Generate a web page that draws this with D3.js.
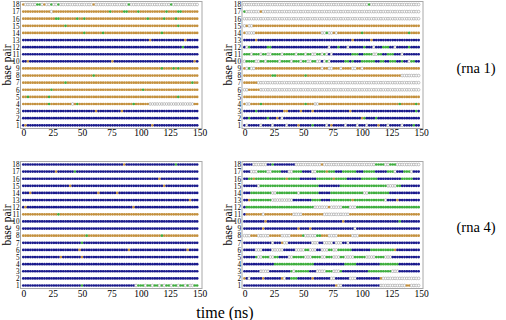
<!DOCTYPE html>
<html><head><meta charset="utf-8">
<script src="https://cdn.jsdelivr.net/npm/d3@7"></script>
<style>
body{margin:0;background:#fff}
svg{display:block}
text{font-family:"Liberation Serif","Times New Roman",serif;fill:#000}
</style>
</head><body>
<svg id="c" width="506" height="320"></svg>
<script>
// ---- data ----
const basePairsTopDown = [18,17,16,15,14,13,12,11,10,9,8,7,6,5,4,3,2,1];
const xTicks = [0,25,50,75,100,125,150];
const timeStep = 2;           // ns between samples
const stateColors = {B:"#1a1a8c", O:"#c4913f", G:"#3fae3f", W:"#ffffff"};
// run-length encoded states per base pair (rows 18 -> 1), 75 samples each
// B = blue, O = orange, G = green, W = white (open)
const rna1Left = [
 "O1 W5 G2 W1 O1 W2 G1 W2 G1 W14 O1 W14 G1 W17 G1 W11",
 "O12 W1 O24 G1 O5 G2 O4 G1 O11 G1 O4 G2 O7",
 "O14 G2 O7 G1 O2 G1 O26 G1 O6 G1 O4 G1 O9",
 "O18 G1 O47 G1 O8",
 "O26 G1 O7 G1 O24 G1 O15",
 "B54 O1 B14 O1 B5",
 "B68 G1 B6",
 "B75",
 "B2 O1 B35 O1 B34 O1 B1",
 "O59 G1 O4 G1 O1 G1 O8",
 "O30 G1 O44",
 "O18 G1 O53 G1 O2",
 "O12 G1 O38 G1 O23",
 "O2 G1 O8 G1 O54 G1 O8",
 "O11 G1 O9 W1 O1 G1 O23 G1 O6 W19 O2",
 "B31 O1 B10 O1 B32",
 "B75",
 "B1 O1 B53 O1 B19"
];
const rna1Right = [
 "W53 G1 W21",
 "G1 W6 O1 W67",
 "W75",
 "W1 O1 W2 O71",
 "O1 W4 O28 W2 G1 W2 O1 W1 O10 G1 O19 G1 O4",
 "B5 O1 B40 O1 B7 O1 B20",
 "B1 W1 G1 B7 G2 B24 W1 B3 G1 B3 W1 B6 G1 B3 W1 B3 G3 B2 W1 B5 G1 B4",
 "G3 W1 G3 W1 G2 W2 G4 W1 G5 W1 G3 W1 G2 W2 G2 W1 G1 W1 B1 W1 B8 G3 B2 G4 W2 G2 B2 G3 B3 W1 B7",
 "W1 G4 W2 G2 W1 G5 W1 G4 W1 G3 W1 G2 W2 G2 W2 B1 W1 G1 W1 B6 G2 B1 G1 B3 G6 B2 G2 B2 G3 B2 G1 B2 W1 G2 B2",
 "O1 W1 G1 W2 O28 W1 O2 W2 O3 W1 O4 W2 O2 W1 O24",
 "O12 G2 O12 G1 O40 W8",
 "O6 W69",
 "W2 O5 W68",
 "O75",
 "O1 W2 O4 G1 O18 G1 O3 W2 O34 G1 O6 G1 O1",
 "B5 G1 B11 O2 B5 O1 B4 O1 B15 O1 B27 G1 B1",
 "B2 G1 B7 G1 B3 O1 B1 W1 B33 O1 G1 B4 G1 B18",
 "B1 W1 B5 W1 B4 W1 B5 W1 B4 O1 B5 G1 B5 W1 B1 O1 B5 W1 B4 W1 B3 W1 B4 O1 B3 W1 B5 W1 B4 G1 B2"
];
const rna4Left = [
 "B43 O1 B21 G1 B9",
 "B14 O1 B7 G1 B52",
 "B58 O1 B16",
 "B20 O1 B39 O1 B14",
 "B3 O1 B28 O1 B7 O1 B34",
 "B71 O1 B3",
 "B1 O1 B45 O1 B27",
 "O15 G1 O59",
 "B75",
 "B75",
 "O27 G1 O31 G1 O15",
 "B25 G1 B49",
 "B24 O1 B20 O1 B24 O1 B4",
 "B16 O1 B8 O1 B49",
 "B75",
 "B75",
 "B75",
 "B25 G1 B22 W1 G3 W1 G2 W1 G2 W1 G1 W1 G2 W1 G2 W1 G2 W1 G1 W2 G2"
];
const rna4Right = [
 "B4 W6 B2 G1 B9 W11 O1 W22 G4 W2 G3 W10",
 "B3 W3 G4 W2 G4 B3 W2 G4 B4 W2 G4 O1 G3 B3 G6 B3 G5 B5 G3 W1 B3 G3 W1 B3",
 "B2 G2 O1 G13 O1 G5 B7 G7 O1 G5 B6 G7 B10 G5 B3",
 "B6 W1 G25 B9 G20 W4 G2 B8",
 "B3 G9 W2 G9 W1 G8 B5 G14 W2 G9 B13",
 "B2 O1 G9 W9 B8 G4 B4 G9 O1 G13 W1 B4 O1 B9",
 "B1 G29 W6 O1 W5 G3 W3 G27",
 "B1 O7 W1 O12 W4 O9 W11 O30",
 "B9 O1 B32 O1 B23 G1 B8",
 "B8 O1 B14 O1 B4 O1 B18 W1 B27",
 "W3 O3 W5 O5 W4 O5 G1 W5 G2 O3 W4 O6 W3 O26",
 "B12 W1 B3 O1 W2 B10 W3 B2 W4 B1 W3 B2 W1 B30",
 "B5 W3 B4 W5 B5 W4 G2 W3 B2 W3 G2 W2 G6 B8 G10 O1 B10",
 "B5 G1 W2 G3 W2 G2 B4 W2 G5 W3 G4 W2 G3 W3 G2 W4 G5 W4 G4 W3 B12",
 "B13 G17 B13 G5 B10 G8 B9",
 "B7 W4 B9 G1 W1 G6 B3 W4 G3 W3 G1 B11 G10 W3 B9",
 "O1 B1 W1 B5 O1 B7 O1 W1 B2 G3 B6 O1 B7 W2 B6 W3 B10 O1 W16",
 "B39 O1 W2 B16 W11 O2 W4"
];
const sideLabels = ["(rna 1)", "(rna 4)"];

// ---- drawing ----
const expand = s => s.split(" ").flatMap(tok => Array(+tok.slice(1)).fill(tok[0]));
const svg = d3.select("#c");

const panels = [
 {rows: rna1Left,  xr:[23.3,199.5], yr:[4.5,125.3],  fx:[20.5,202], fy:[1.5,128.5],  lab:7,   tickY:133},
 {rows: rna1Right, xr:[244.5,421],  yr:[4.5,125.3],  fx:[242,423],  fy:[1.5,128.5],  lab:228, tickY:133},
 {rows: rna4Left,  xr:[23.3,199.5], yr:[164.5,285.5],fx:[20.5,202], fy:[161.5,288.5],lab:7,   tickY:293.5},
 {rows: rna4Right, xr:[244.5,421],  yr:[164.5,285.5],fx:[242,423],  fy:[161.5,288.5],lab:228, tickY:293.5}
];

panels.forEach(p => {
  const x = d3.scaleLinear().domain([0,150]).range(p.xr);
  const y = d3.scaleLinear().domain([18,1]).range(p.yr);
  const g = svg.append("g");
  g.append("rect").attr("x",p.fx[0]).attr("y",p.fy[0])
    .attr("width",p.fx[1]-p.fx[0]).attr("height",p.fy[1]-p.fy[0])
    .attr("fill","none").attr("stroke","#a8a8a8").attr("stroke-width",1);
  const pts = [];
  p.rows.forEach((s,ri) => {
    const bp = basePairsTopDown[ri];
    expand(s).forEach((st,i) => pts.push({bp, t:i*timeStep, st}));
  });
  g.selectAll("circle").data(pts).join("circle")
    .attr("cx", d => x(d.t)).attr("cy", d => y(d.bp)).attr("r", 1.35)
    .attr("fill", d => stateColors[d.st])
    .attr("stroke", d => d.st === "W" ? "#9a9a9a" : "none")
    .attr("stroke-width", 0.6);
  // y axis
  const ya = d3.axisLeft(y).tickValues(basePairsTopDown).tickSize(0).tickPadding(0);
  const yg = g.append("g").attr("transform",`translate(${p.fx[0]-1},0)`).call(ya);
  yg.select(".domain").remove();
  yg.selectAll("text").style("font-family",'"Liberation Serif",serif').style("font-size","7.2px").attr("fill","#000");
  // x axis
  const xa = d3.axisBottom(x).tickValues(xTicks).tickSize(0).tickPadding(0);
  const xg = g.append("g").attr("transform",`translate(0,${p.tickY})`).call(xa);
  xg.select(".domain").remove();
  xg.selectAll("text").attr("dy","0.32em").attr("y",0)
    .style("font-family",'"Liberation Serif",serif').style("font-size","9.5px").attr("fill","#000");
  // base pair label
  const cy = (p.fy[0]+p.fy[1])/2;
  g.append("text").attr("transform",`translate(${p.lab},${cy}) rotate(-90)`)
    .attr("text-anchor","middle").attr("dy","0.35em").style("font-size","11.5px").text("base pair");
});

svg.append("text").attr("x",225).attr("y",312).attr("text-anchor","middle")
  .attr("dy","0.35em").style("font-size","16px").text("time (ns)");
svg.append("text").attr("x",476).attr("y",68).attr("text-anchor","middle")
  .attr("dy","0.35em").style("font-size","14.5px").text(sideLabels[0]);
svg.append("text").attr("x",476).attr("y",227).attr("text-anchor","middle")
  .attr("dy","0.35em").style("font-size","14.5px").text(sideLabels[1]);
</script>
</body></html>
